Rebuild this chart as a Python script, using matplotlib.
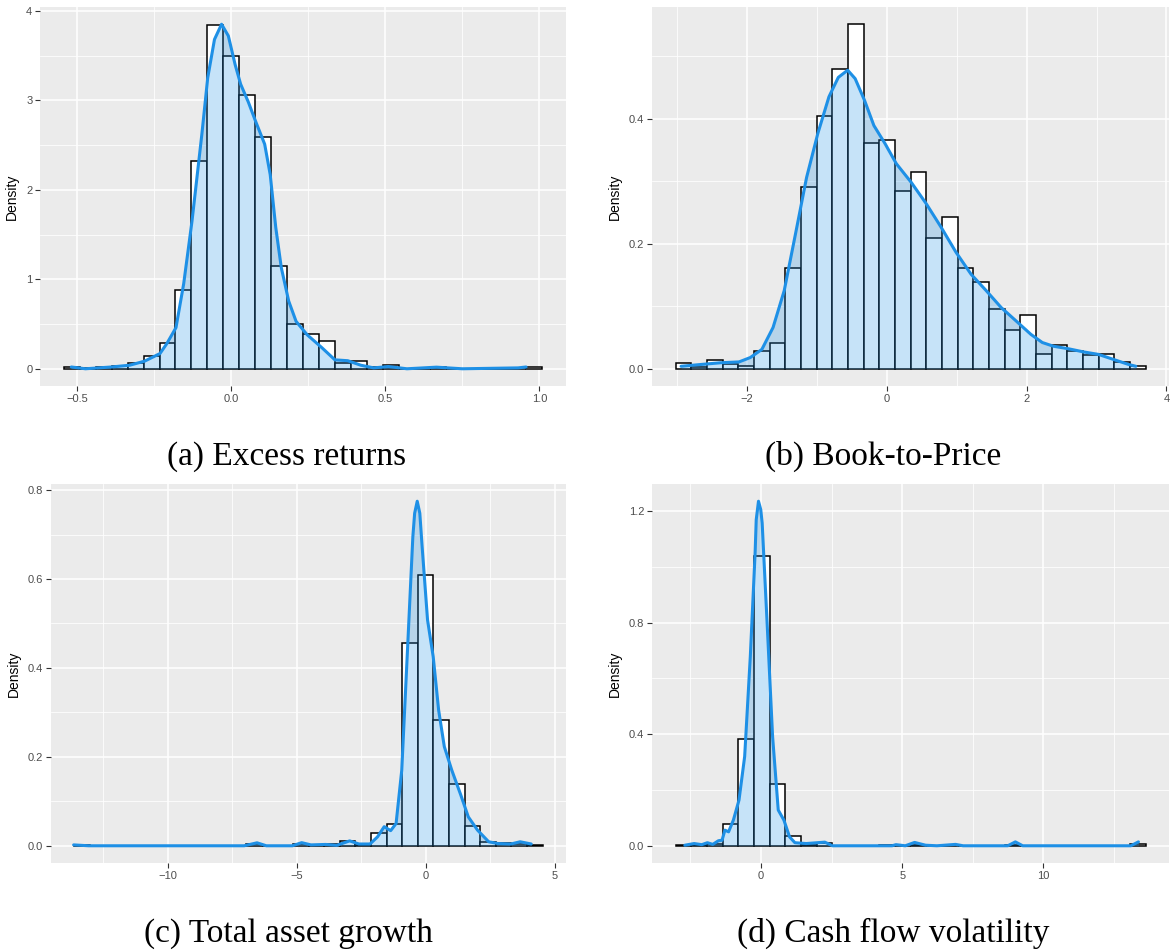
import numpy as np
import matplotlib
matplotlib.use('Agg')
import matplotlib.pyplot as plt
from matplotlib.ticker import MultipleLocator

plt.rcParams['font.family'] = ['Liberation Sans', 'DejaVu Sans']

# -------- Excess returns --------
ret_range = (-0.544, 1.009)
ret_hist = [0.022, 0.005, 0.02, 0.035, 0.06, 0.145, 0.29, 0.885, 2.32, 3.84,
            3.49, 3.06, 2.59, 1.15, 0.50, 0.39, 0.305, 0.06, 0.082, 0.015,
            0.045, 0.0, 0.0, 0.02, 0.0, 0.0, 0.0, 0.0, 0.0, 0.02]
ret_kde_x = [-0.52, -0.474, -0.39, -0.33, -0.282, -0.232, -0.21, -0.18, -0.155,
             -0.128, -0.096, -0.077, -0.055, -0.032, -0.01, 0.012, 0.030, 0.055,
             0.078, 0.108, 0.126, 0.144, 0.162, 0.186, 0.210, 0.246, 0.294,
             0.336, 0.378, 0.420, 0.462, 0.510, 0.570, 0.666, 0.750, 0.931, 0.957]
ret_kde_y = [0.02, 0.0, 0.02, 0.04, 0.085, 0.17, 0.28, 0.46, 0.95,
             1.65, 2.62, 3.25, 3.68, 3.85, 3.72, 3.40, 3.18, 2.98,
             2.77, 2.51, 2.17, 1.58, 1.13, 0.757, 0.53, 0.38, 0.235,
             0.10, 0.09, 0.04, 0.01, 0.025, 0.0, 0.018, 0.0, 0.01, 0.02]

# -------- Book-to-Price --------
bp_range = (-3.026, 3.70)
bp_hist = [0.010, 0.003, 0.014, 0.008, 0.005, 0.028, 0.042, 0.161, 0.290, 0.404,
           0.480, 0.551, 0.361, 0.366, 0.285, 0.314, 0.209, 0.242, 0.161, 0.138,
           0.095, 0.0615, 0.0856, 0.0235, 0.038, 0.029, 0.0225, 0.024, 0.0107, 0.005]
bp_kde_x = [-2.946, -2.65, -2.38, -2.116, -1.955, -1.79, -1.63, -1.47, -1.31,
            -1.15, -0.99, -0.83, -0.696, -0.562, -0.455, -0.32, -0.187, -0.027,
            0.134, 0.348, 0.562, 0.777, 0.99, 1.205, 1.42, 1.634, 1.848, 2.06,
            2.223, 2.384, 2.598, 2.812, 3.026, 3.24, 3.455, 3.562]
bp_kde_y = [0.004, 0.007, 0.0096, 0.011, 0.018, 0.031, 0.066, 0.125, 0.215,
            0.306, 0.376, 0.435, 0.466, 0.4775, 0.464, 0.429, 0.389, 0.360,
            0.328, 0.298, 0.264, 0.226, 0.186, 0.151, 0.125, 0.098, 0.0765, 0.055,
            0.042, 0.036, 0.032, 0.027, 0.023, 0.015, 0.007, 0.004]

# -------- Total asset growth --------
tag_range = (-13.62, 4.53)
tag_hist = [0.002, 0, 0, 0, 0, 0, 0, 0, 0, 0,
            0, 0.004, 0, 0, 0.004, 0.002, 0.003, 0.0105, 0.002, 0.029,
            0.050, 0.455, 0.6096, 0.282, 0.1395, 0.044, 0.009, 0.0067, 0.005, 0.002]
tag_kde_x = [-13.65, -13.07, -7.04, -6.54, -6.18, -5.17, -4.81, -4.45, -3.88,
             -3.45, -2.95, -2.59, -2.16, -1.87, -1.61, -1.36, -1.15, -0.93, -0.72,
             -0.50, -0.43, -0.33, -0.23, -0.14, 0.07, 0.29, 0.50, 0.72, 1.01, 1.36,
             1.65, 2.01, 2.44, 2.80, 3.30, 3.66, 4.09]
tag_kde_y = [0.002, 0.0, 0.0, 0.0067, 0.0, 0.0, 0.007, 0.002, 0.003,
             0.001, 0.011, 0.004, 0.004, 0.02, 0.043, 0.034, 0.050, 0.17, 0.425,
             0.695, 0.748, 0.775, 0.748, 0.673, 0.508, 0.425, 0.305, 0.223, 0.17, 0.114,
             0.065, 0.035, 0.009, 0.005, 0.004, 0.009, 0.004]

# -------- Cash flow volatility --------
cfv_range = (-3.03, 13.62)
cfv_hist = [0.004, 0.002, 0.008, 0.078, 0.383, 1.037, 0.221, 0.035, 0.002, 0.011,
            0, 0, 0, 0.003, 0, 0.004, 0, 0.003, 0, 0,
            0, 0.004, 0, 0, 0, 0, 0, 0, 0, 0.005]
cfv_kde_x = [-2.70, -2.37, -2.10, -1.90, -1.71, -1.51, -1.38, -1.28, -1.15, -0.98,
             -0.78, -0.58, -0.38, -0.21, -0.17, -0.09, -0.01, 0.04, 0.21, 0.41, 0.61,
             0.81, 1.01, 1.20, 1.60, 2.26, 2.53, 4.64, 4.78, 5.11, 5.44, 5.83, 6.23,
             6.89, 7.16, 8.74, 9.01, 9.27, 13.1, 13.37]
cfv_kde_y = [0.002, 0.008, 0.004, 0.011, 0.005, 0.018, 0.02, 0.056, 0.05, 0.092,
             0.164, 0.32, 0.678, 1.049, 1.169, 1.235, 1.205, 1.157, 0.81, 0.391, 0.128,
             0.092, 0.032, 0.011, 0.008, 0.013, 0.0, 0.0, 0.004, 0.0, 0.012, 0.002, 0.0,
             0.005, 0.0, 0.0, 0.014, 0.0, 0.0, 0.014]

captions = ['(a) Excess returns', '(b) Book-to-Price',
            '(c) Total asset growth', '(d) Cash flow volatility']

W, H = 1175, 951
fig = plt.figure(figsize=(W / 100, H / 100), dpi=100)

LINE = '#1E90E6'


def panel(left, right, top, bottom):
    return fig.add_axes([left / W, 1 - bottom / H, (right - left) / W, (bottom - top) / H])


def draw(ax, rng, hist, kx, ky, xmaj, ymaj, yfmt):
    edges = np.linspace(rng[0], rng[1], len(hist) + 1)
    ax.bar(edges[:-1], hist, width=np.diff(edges), align='edge',
           color='white', edgecolor='black', linewidth=1.1, zorder=2)
    ax.fill_between(kx, ky, 0, color=LINE, alpha=0.25, linewidth=0, zorder=3)
    ax.plot(kx, ky, color=LINE, linewidth=2.2, zorder=4,
            solid_capstyle='round', solid_joinstyle='round')

    # ggplot-style expansion of 5% on each side
    span = rng[1] - rng[0]
    ax.set_xlim(rng[0] - 0.05 * span, rng[1] + 0.05 * span)
    top = max(max(hist), max(ky))
    ax.set_ylim(-0.05 * top, 1.05 * top)

    ax.set_facecolor('#EBEBEB')
    for s in ax.spines.values():
        s.set_visible(False)
    ax.xaxis.set_major_locator(MultipleLocator(xmaj))
    ax.xaxis.set_minor_locator(MultipleLocator(xmaj / 2))
    ax.yaxis.set_major_locator(MultipleLocator(ymaj))
    ax.yaxis.set_minor_locator(MultipleLocator(ymaj / 2))
    ax.yaxis.set_major_formatter(yfmt)
    ax.grid(which='major', color='white', linewidth=1.1, zorder=0)
    ax.grid(which='minor', color='white', linewidth=0.55, zorder=0)
    ax.set_axisbelow(True)
    ax.tick_params(which='major', length=3.5, width=0.8, color='#333333',
                   labelsize=8, labelcolor='#4D4D4D', pad=2)
    ax.tick_params(which='minor', length=0)
    ax.set_ylabel('Density', fontsize=10, color='black', labelpad=5)


ax_a = panel(40, 566, 7, 386)
draw(ax_a, ret_range, ret_hist, ret_kde_x, ret_kde_y, 0.5, 1, '{x:.0f}')
ax_a.xaxis.set_major_formatter('{x:.1f}')

ax_b = panel(652, 1169, 7, 386)
draw(ax_b, bp_range, bp_hist, bp_kde_x, bp_kde_y, 2, 0.2, '{x:.1f}')
ax_b.xaxis.set_major_formatter('{x:.0f}')

ax_c = panel(51, 566, 484, 863)
draw(ax_c, tag_range, tag_hist, tag_kde_x, tag_kde_y, 5, 0.2, '{x:.1f}')
ax_c.xaxis.set_major_formatter('{x:.0f}')

ax_d = panel(652, 1169, 484, 863)
draw(ax_d, cfv_range, cfv_hist, cfv_kde_x, cfv_kde_y, 5, 0.4, '{x:.1f}')
ax_d.xaxis.set_major_formatter('{x:.0f}')

# sub-figure captions
cap_pos = [(287, 465), (883, 465), (288, 942), (893, 942)]
for (cx, cy), text in zip(cap_pos, captions):
    fig.text(cx / W, 1 - cy / H, text, ha='center', va='baseline',
             family='Liberation Serif', fontsize=24)

fig.savefig('out.png', dpi=100)
